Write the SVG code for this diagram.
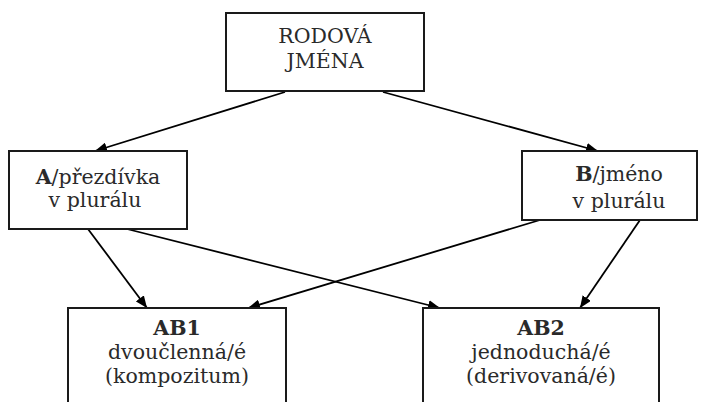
<svg xmlns="http://www.w3.org/2000/svg" width="712" height="402" viewBox="0 0 712 402">
<style>
.box{fill:#fff;stroke:#1a1a1a;stroke-width:2}
.t{font-family:"DejaVu Serif","Liberation Serif",serif;font-size:20.5px;fill:#2a2a2a;text-anchor:middle}
.b{font-weight:bold}
.c{stroke:#000;stroke-width:1.8;fill:none;marker-end:url(#ah)}
</style>
<defs>
<marker id="ah" viewBox="0 0 12 10" refX="12" refY="5" markerWidth="12" markerHeight="10" markerUnits="userSpaceOnUse" orient="auto">
<path d="M0,0 L12,5 L0,10 z" fill="#000"/>
</marker>
</defs>
<rect width="712" height="402" fill="#fff"/>
<g id="connectors">
<line class="c" x1="285" y1="92" x2="95" y2="151"/>
<line class="c" x1="383" y1="92" x2="598" y2="151"/>
<line class="c" x1="88" y1="229" x2="147" y2="308"/>
<line class="c" x1="127" y1="229" x2="440" y2="308"/>
<line class="c" x1="540" y1="220" x2="248" y2="308"/>
<line class="c" x1="640" y1="220" x2="580" y2="308"/>
</g>
<g id="rodova">
<rect class="box" x="226" y="13" width="198" height="78"/>
<text class="t" x="325" y="43">RODOVÁ</text>
<text class="t" x="325" y="68">JMÉNA</text>
</g>
<g id="a">
<rect class="box" x="9" y="151" width="178" height="78"/>
<text class="t" x="98" y="184"><tspan class="b">A</tspan>/přezdívka</text>
<text class="t" x="95" y="207">v plurálu</text>
</g>
<g id="b">
<rect class="box" x="522" y="151" width="175" height="69"/>
<text class="t" x="619" y="181"><tspan class="b">B</tspan>/jméno</text>
<text class="t" x="619" y="208">v plurálu</text>
</g>
<g id="ab1">
<rect class="box" x="68" y="308" width="218" height="120"/>
<text class="t b" x="177" y="335">AB1</text>
<text class="t" x="177" y="359">dvoučlenná/é</text>
<text class="t" x="177" y="383">(kompozitum)</text>
</g>
<g id="ab2">
<rect class="box" x="423" y="308" width="236" height="120"/>
<text class="t b" x="541" y="335">AB2</text>
<text class="t" x="541" y="359">jednoduchá/é</text>
<text class="t" x="541" y="383">(derivovaná/é)</text>
</g>
</svg>
